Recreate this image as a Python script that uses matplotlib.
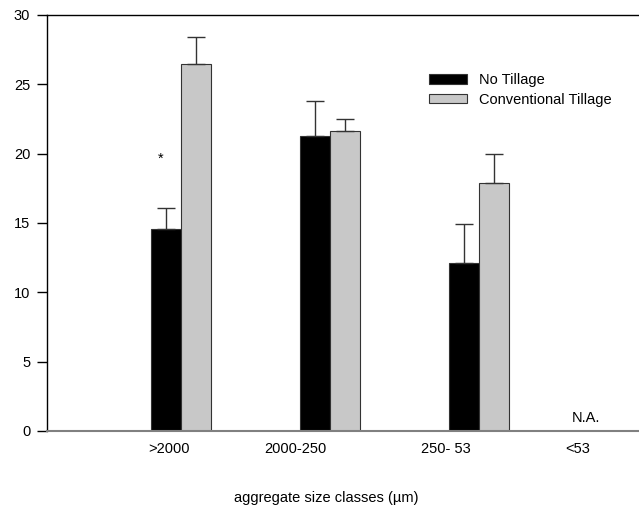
import matplotlib.pyplot as plt
import numpy as np

plt.rcParams['font.family'] = ['Liberation Sans', 'DejaVu Sans']

# data
classes = ['>2000', '2000-250', '250- 53', '<53']
no_till = [14.6, 21.3, 12.1]
no_till_err = [1.5, 2.5, 2.8]
conv_till = [26.5, 21.6, 17.9]
conv_till_err = [1.9, 0.9, 2.1]
yticks = [0, 5, 10, 15, 20, 25, 30]

# label positions (in group units) as they sit in the original
label_x = [-0.08, 0.77, 1.78, 2.66]

fs = 10.5
fig = plt.figure(figsize=(6.39, 5.13), dpi=100)
ax = fig.add_axes([47/639, 82/513, 1 - 47/639, 416/513])

x = np.arange(len(no_till))
w = 0.2
ax.bar(x - w/2, no_till, w, color='black', edgecolor='#333333', lw=0.8,
       label='No Tillage', zorder=2)
ax.bar(x + w/2, conv_till, w, color='#c8c8c8', edgecolor='#333333', lw=0.8,
       label='Conventional Tillage', zorder=2)
ax.errorbar(x - w/2, no_till, yerr=[np.zeros(3), no_till_err], fmt='none',
            ecolor='#333333', elinewidth=1, capsize=6.5, capthick=1, zorder=3)
ax.errorbar(x + w/2, conv_till, yerr=[np.zeros(3), conv_till_err], fmt='none',
            ecolor='#333333', elinewidth=1, capsize=6.5, capthick=1, zorder=3)

# annotations
ax.text(-0.135, 19.6, '*', ha='center', va='center', fontsize=fs)
ax.text(2.72, 0.95, 'N.A.', ha='center', va='center', fontsize=fs)

ax.set_xlim(-0.899, 3.074)
ax.set_ylim(0, 30)
ax.set_yticks(yticks)
ax.tick_params(axis='y', direction='out', length=7, width=1, labelsize=fs,
               pad=5)
ax.set_xticks(label_x)
ax.set_xticklabels(classes, fontsize=fs)
ax.tick_params(axis='x', length=0, pad=8)

ax.spines['right'].set_visible(False)
ax.spines['bottom'].set_color('#808080')
ax.spines['bottom'].set_linewidth(1.5)
ax.spines['top'].set_linewidth(1)
ax.spines['left'].set_linewidth(1)

fig.text(326/639, 1 - 498/513, 'aggregate size classes (µm)', ha='center',
         va='center', fontsize=fs)

ax.legend(loc='upper left', bbox_to_anchor=(416/639, 1 - 60/513),
          bbox_transform=fig.transFigure, frameon=False, fontsize=fs,
          handlelength=2.6, handleheight=0.6, handletextpad=0.8,
          labelspacing=0.4)

fig.savefig('out.png', dpi=100)
